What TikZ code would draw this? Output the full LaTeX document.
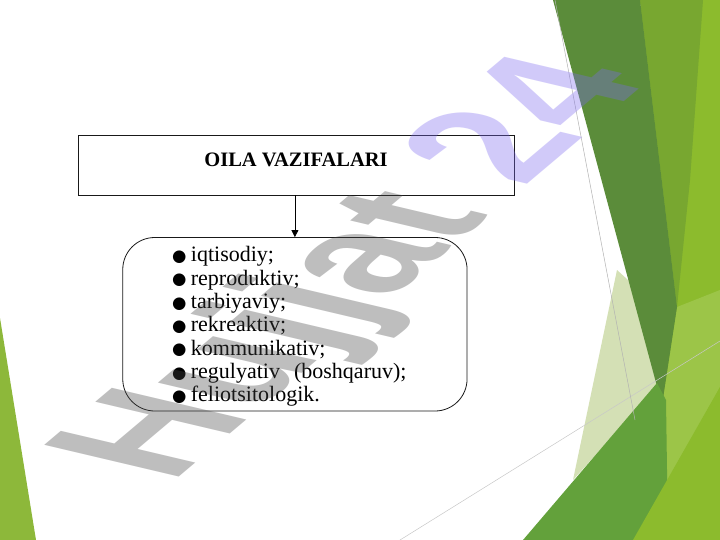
\documentclass[tikz,border=0pt]{standalone}
\usepackage{fontspec}
\setmainfont{Liberation Serif}
\newfontfamily\wmfont{Liberation Sans}
\newfontfamily\symfont{DejaVu Sans}
\usetikzlibrary{arrows.meta}
\definecolor{gDark}{HTML}{5B8C3A}
\definecolor{gOlive}{HTML}{78A730}
\definecolor{gBright}{HTML}{8CBB2D}
\definecolor{gLight}{HTML}{9CC548}
\definecolor{gMid}{HTML}{63A13B}
\definecolor{gPale}{HTML}{D4E0B5}
\definecolor{gLeft}{HTML}{8DB83A}
\definecolor{thinline}{HTML}{C8C8C8}
\definecolor{wmgray}{RGB}{69,69,69}
\definecolor{wmpurple}{RGB}{125,105,240}
\newcommand\lbul{\makebox[18.7pt][l]{\raisebox{0.3pt}{\symfont\fontsize{16.5}{16.5}\selectfont ●}}}
\tikzset{
  listitem/.style={anchor=base west, inner sep=0pt, font=\fontsize{22}{22}\selectfont},
  framebox/.style={draw=black!90, line width=0.8pt, inner sep=0pt},
}
\begin{document}
\begin{tikzpicture}[x=1pt,y=-1pt]
\fill[white] (0,0) rectangle (720,540);
\useasboundingbox (0,0) rectangle (720,540);
% green decoration
\fill[gLeft] (0,318) -- (36,540) -- (0,540) -- cycle;
\fill[gBright] (640,0) -- (720,0) -- (720,540) -- (628,540) -- (662,400) -- cycle;
\fill[gLight] (677,307) -- (720,290) -- (720,387) -- (662,500) -- (662,405) -- cycle;
\fill[gOlive] (640,0) -- (703,0) -- (690,180) -- (677,307) -- cycle;
\fill[gPale] (617,270) -- (573,480) -- (660,383) -- (650,300) -- cycle;
\fill[gDark] (553,0) -- (640,0) -- (677,307) -- (662,405) -- cycle;
\fill[gMid] (523,540) -- (657,383) -- (666,400) -- (668,540) -- cycle;
\fill[gBright] (633,540) -- (720,387) -- (720,540) -- cycle;
\draw[thinline, line width=0.5pt] (400,540) -- (720,341);
\draw[black!30, line width=0.5pt] (555,0) -- (635,420);
% diagram
\node[framebox, minimum width=436pt, minimum height=60pt] (box) at (296,165) {};
\node[inner sep=0pt, font=\bfseries\fontsize{20.5}{20.5}\selectfont] (title) at (296,160) {OILA VAZIFALARI};
\node[framebox, rounded corners=32pt, minimum width=344.3pt, minimum height=173.5pt] (funcs) at (294.9,324.25) {};
\draw[line width=0.7pt, -{Triangle[length=7pt,width=7pt]}] (box.south -| funcs.north) -- (funcs.north);
\node[listitem] (l1) at (172,261.7) {\lbul iqtisodiy;};
\node[listitem] (l2) at (172,285.0) {\lbul reproduktiv;};
\node[listitem] (l3) at (172,308.4) {\lbul tarbiyaviy;};
\node[listitem] (l4) at (172,331.7) {\lbul rekreaktiv;};
\node[listitem] (l5) at (172,355.0) {\lbul kommunikativ;};
\node[listitem] (l6) at (172,378.4) {\lbul regulyativ\hspace{14pt}(boshqaruv);};
\node[listitem] (l7) at (172,401.7) {\lbul feliotsitologik.};
% watermark
\begin{scope}[shift={(171.4,483.6)}, cm={1.15,0.97,-1.955,0.461,(0,0)}]
\node[anchor=base west, inner sep=0pt, transform shape, text opacity=0.35, font=\wmfont\bfseries\fontsize{100}{100}\selectfont] (wm) at (0,0) {\textcolor{wmgray}{Hujjat} \textcolor{wmpurple}{24}};
\end{scope}
\end{tikzpicture}
\end{document}
